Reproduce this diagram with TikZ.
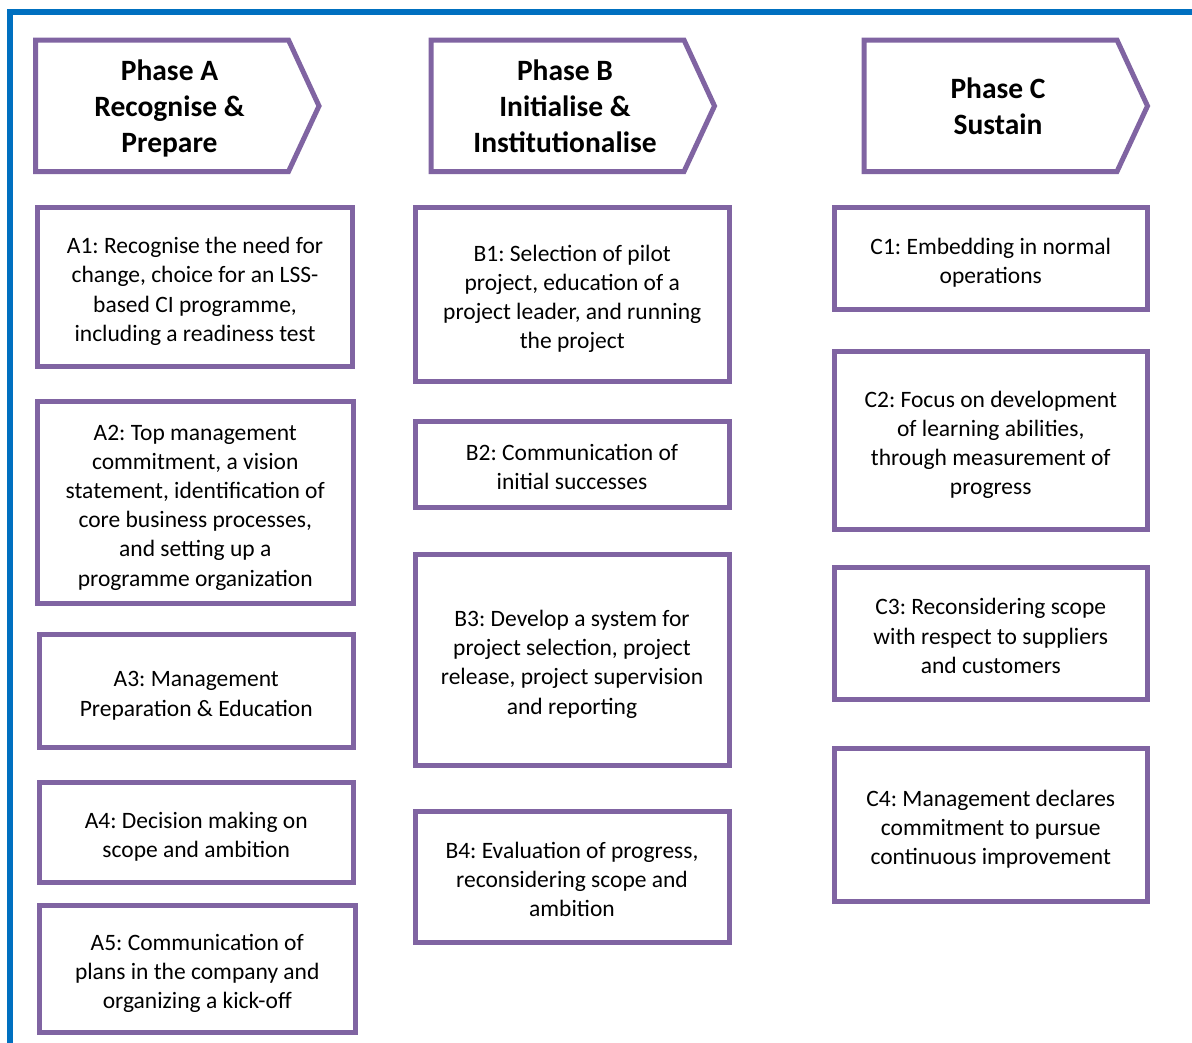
\documentclass[tikz,border=0pt]{standalone}
\usepackage{fontspec}
\setmainfont{Carlito}
\frenchspacing
% struts that fix the height of the first line and the depth of the last one
\newcommand\bodytop{\rule{0pt}{29pt}}
\newcommand\bodybot{\rule[-8pt]{0pt}{8pt}}
\newcommand\headtop{\rule{0pt}{30pt}}
\newcommand\headbot{\rule[-9pt]{0pt}{9pt}}
\begin{document}
\begin{tikzpicture}[x=1pt,y=-1pt,
  frameline/.style={draw=frameblue,line width=5.5pt,line join=miter,line cap=butt},
  phasebox/.style={draw=stagepurple,line width=5pt,line join=miter,fill=white},
  phasetext/.style={align=center,font=\fontsize{29.5}{36}\selectfont\bfseries,inner sep=0pt},
  stagebox/.style 2 args={draw=stagepurple,line width=5pt,rectangle,inner sep=0pt,
    minimum width=#1pt,minimum height=#2pt,align=center,
    font=\fontsize{23.5}{29.2}\selectfont}]
\definecolor{frameblue}{HTML}{0070C0}
\definecolor{stagepurple}{HTML}{8064A2}
\useasboundingbox (0,0) rectangle (1192,1042);
\fill[white] (0,0) rectangle (1192,1042);

% blue frame along the top and left edges
\draw[frameline] (10,1045) -- (10,12) -- (1195,12);

% phase headers (pentagon arrows)
\draw[phasebox] (35.5,40) -- (288.5,40) -- (319,106) -- (288.5,171.5) -- (35.5,171.5) -- cycle;
\node[phasetext] (phA) at (169.5,106) {\headtop Phase A\\Recognise \&\\Prepare\headbot};
\draw[phasebox] (431,40) -- (684,40) -- (714.5,106) -- (684,171.5) -- (431,171.5) -- cycle;
\node[phasetext] (phB) at (565,106) {\headtop Phase B\\Initialise \&\\Institutionalise\headbot};
\draw[phasebox] (864,40) -- (1117,40) -- (1147.5,106) -- (1117,171.5) -- (864,171.5) -- cycle;
\node[phasetext] (phC) at (998,106) {\headtop Phase C\\Sustain\headbot};

% phase A stages
\node[stagebox={315}{159}] (A1) at (195,287)
  {\bodytop A1: Recognise the need for\\change, choice for an LSS-\\based CI programme,\\including a readiness test\bodybot};
\node[stagebox={315.5}{202}] (A2) at (195.25,502.5)
  {\bodytop A2: Top management\\commitment, a vision\\statement, identification of\\core business processes,\\and setting up a\\programme organization\bodybot};
\node[stagebox={314.5}{113}] (A3) at (196.25,691)
  {\bodytop A3: Management\\Preparation \& Education\bodybot};
\node[stagebox={314.5}{100}] (A4) at (196.25,832.5)
  {\bodytop A4: Decision making on\\scope and ambition\bodybot};
\node[stagebox={315.5}{126.5}] (A5) at (197.25,968.75)
  {\bodytop A5: Communication of\\plans in the company and\\organizing a kick-off\bodybot};

% phase B stages
\node[stagebox={314.5}{174}] (B1) at (572.25,294.5)
  {\bodytop B1: Selection of pilot\\project, education of a\\project leader, and running\\the project\bodybot};
\node[stagebox={314}{86}] (B2) at (572,464.5)
  {\bodytop B2: Communication of\\initial successes\bodybot};
\node[stagebox={314}{211.5}] (B3) at (572,659.75)
  {\bodytop B3: Develop a system for\\project selection, project\\release, project supervision\\and reporting\bodybot};
\node[stagebox={314}{131}] (B4) at (572,877)
  {\bodytop B4: Evaluation of progress,\\reconsidering scope and\\ambition\bodybot};

% phase C stages
\node[stagebox={313.5}{101.5}] (C1) at (990.75,258.25)
  {\bodytop C1: Embedding in normal\\operations\bodybot};
\node[stagebox={313.5}{178}] (C2) at (990.75,440.5)
  {\bodytop C2: Focus on development\\of learning abilities,\\through measurement of\\progress\bodybot};
\node[stagebox={313.5}{132}] (C3) at (990.75,633.5)
  {\bodytop C3: Reconsidering scope\\with respect to suppliers\\and customers\bodybot};
\node[stagebox={313.5}{153.5}] (C4) at (990.75,824.75)
  {\bodytop C4: Management declares\\commitment to pursue\\continuous improvement\bodybot};
\end{tikzpicture}
\end{document}
